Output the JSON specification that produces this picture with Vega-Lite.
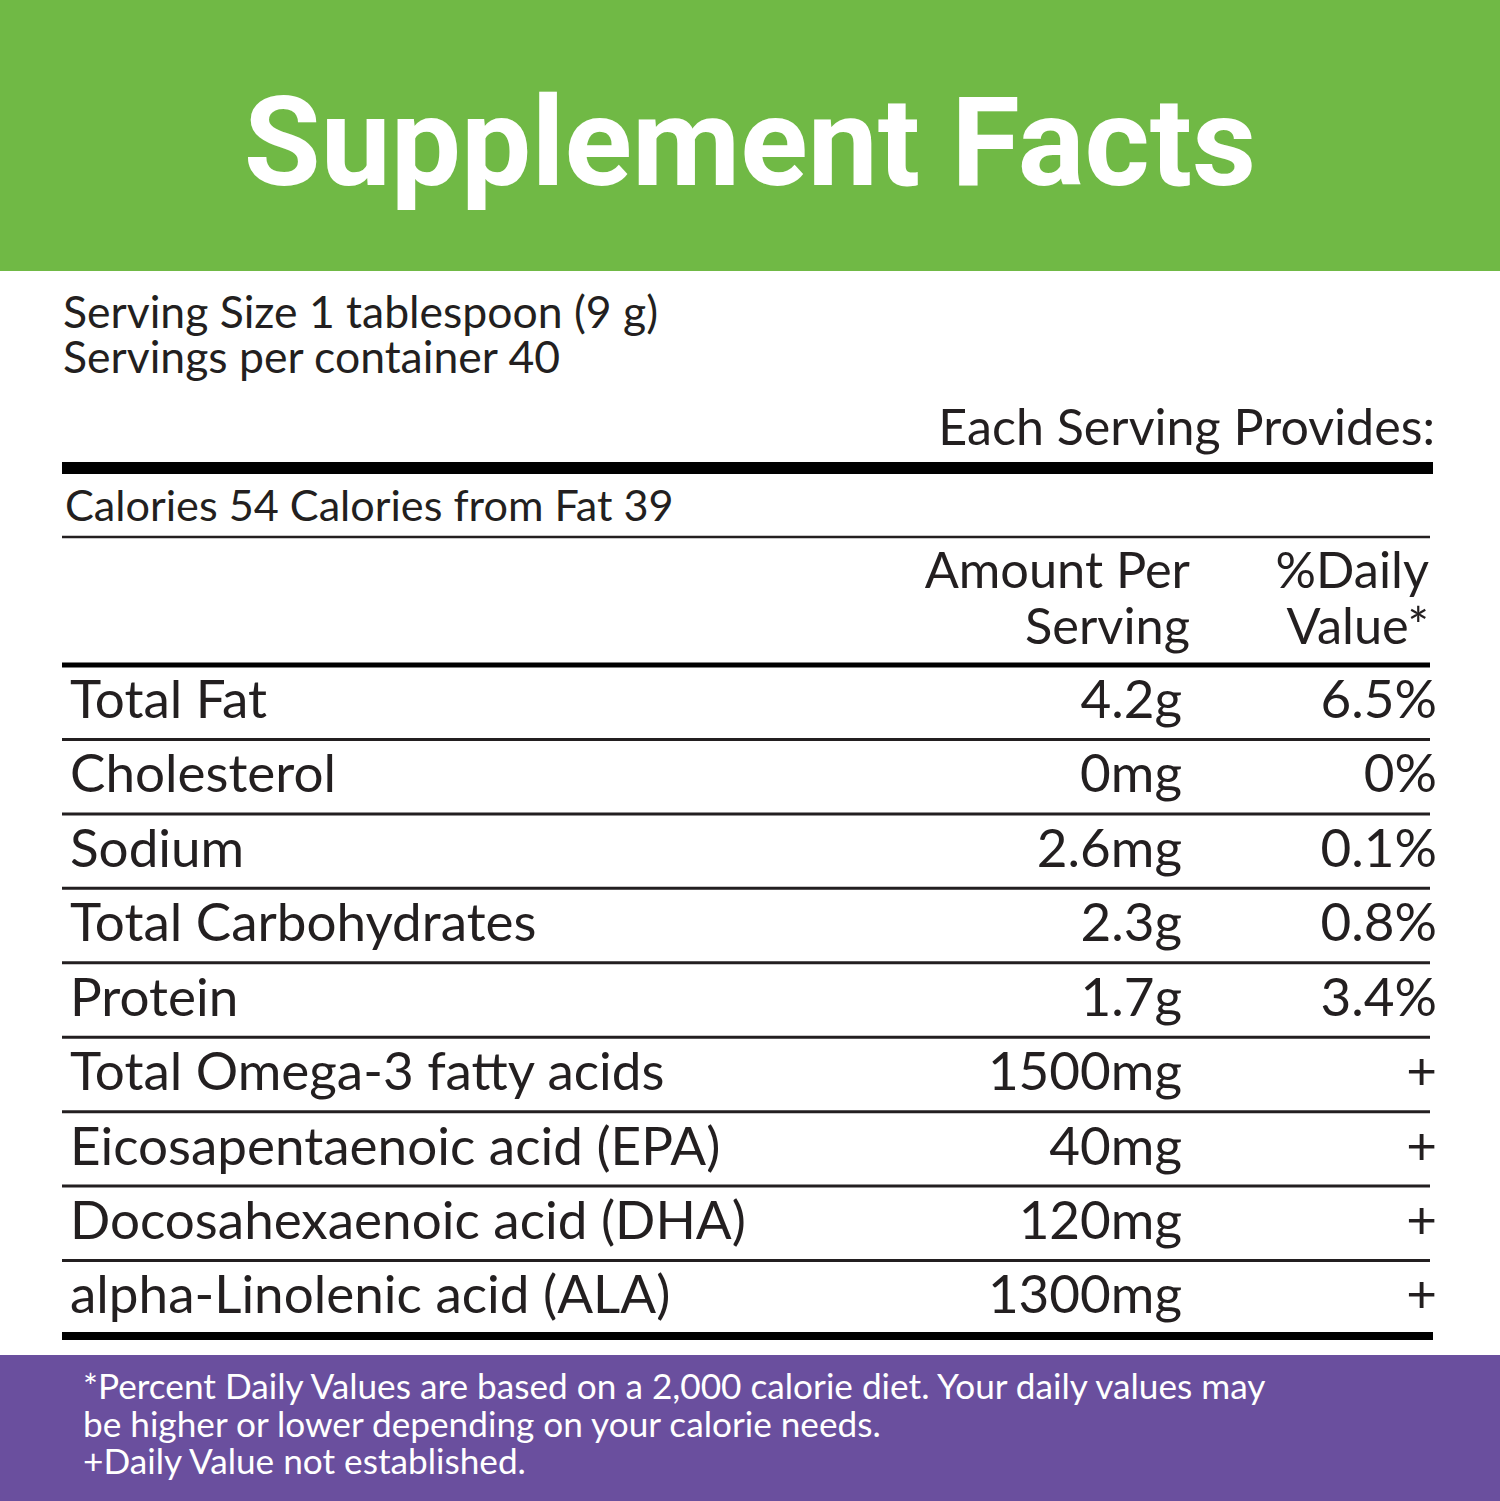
{
  "$schema": "https://vega.github.io/schema/vega-lite/v6.json",
  "width": 1500,
  "height": 1501,
  "autosize": {"type": "fit", "contains": "padding"},
  "padding": 0,
  "background": "#ffffff",
  "config": {"view": {"stroke": null}, "text": {"font": "Lato", "color": "#231f20"}},
  "data": {"values": [{}]},
  "datasets": {
    "nutrients": [
      {"nutrient": "Total Fat", "amount": "4.2g", "dv": "6.5%"},
      {"nutrient": "Cholesterol", "amount": "0mg", "dv": "0%"},
      {"nutrient": "Sodium", "amount": "2.6mg", "dv": "0.1%"},
      {"nutrient": "Total Carbohydrates", "amount": "2.3g", "dv": "0.8%"},
      {"nutrient": "Protein", "amount": "1.7g", "dv": "3.4%"},
      {"nutrient": "Total Omega-3 fatty acids", "amount": "1500mg", "dv": "+"},
      {"nutrient": "Eicosapentaenoic acid (EPA)", "amount": "40mg", "dv": "+"},
      {"nutrient": "Docosahexaenoic acid (DHA)", "amount": "120mg", "dv": "+"},
      {"nutrient": "alpha-Linolenic acid (ALA)", "amount": "1300mg", "dv": "+"}
    ]
  },
  "resolve": {"scale": {"y": "independent"}},
  "layer": [
    {
      "mark": {"type": "rect", "color": "#70b945"},
      "encoding": {
        "x": {"datum": 0, "type": "quantitative", "scale": {"domain": [0, 1500], "nice": false, "zero": false}, "axis": null},
        "x2": {"datum": 1500},
        "y": {"datum": 0, "type": "quantitative", "scale": {"domain": [0, 1501], "reverse": true, "nice": false, "zero": false}, "axis": null},
        "y2": {"datum": 271}
      }
    },
    {
      "mark": {"type": "rect", "color": "#6a4f9e"},
      "encoding": {
        "x": {"datum": 0, "type": "quantitative", "scale": {"domain": [0, 1500], "nice": false, "zero": false}, "axis": null},
        "x2": {"datum": 1500},
        "y": {"datum": 1355, "type": "quantitative", "scale": {"domain": [0, 1501], "reverse": true, "nice": false, "zero": false}, "axis": null},
        "y2": {"datum": 1501}
      }
    },
    {
      "mark": {"type": "text", "text": "Supplement Facts", "font": "Roboto", "fontWeight": "bold", "fontSize": 125, "color": "#ffffff", "align": "center", "baseline": "alphabetic"},
      "encoding": {
        "x": {"datum": 750, "type": "quantitative", "scale": {"domain": [0, 1500], "nice": false, "zero": false}, "axis": null},
        "y": {"datum": 185, "type": "quantitative", "scale": {"domain": [0, 1501], "reverse": true, "nice": false, "zero": false}, "axis": null}
      }
    },
    {
      "mark": {"type": "text", "text": ["Serving Size 1 tablespoon (9 g)", "Servings per container 40"], "fontSize": 44.5, "lineHeight": 45, "align": "left", "baseline": "alphabetic"},
      "encoding": {
        "x": {"datum": 63, "type": "quantitative", "scale": {"domain": [0, 1500], "nice": false, "zero": false}, "axis": null},
        "y": {"datum": 328, "type": "quantitative", "scale": {"domain": [0, 1501], "reverse": true, "nice": false, "zero": false}, "axis": null}
      }
    },
    {
      "mark": {"type": "text", "text": "Each Serving Provides:", "fontSize": 50.2, "align": "right", "baseline": "alphabetic"},
      "encoding": {
        "x": {"datum": 1435, "type": "quantitative", "scale": {"domain": [0, 1500], "nice": false, "zero": false}, "axis": null},
        "y": {"datum": 445, "type": "quantitative", "scale": {"domain": [0, 1501], "reverse": true, "nice": false, "zero": false}, "axis": null}
      }
    },
    {
      "mark": {"type": "text", "text": "Calories 54 Calories from Fat 39", "fontSize": 43.2, "align": "left", "baseline": "alphabetic"},
      "encoding": {
        "x": {"datum": 65, "type": "quantitative", "scale": {"domain": [0, 1500], "nice": false, "zero": false}, "axis": null},
        "y": {"datum": 521, "type": "quantitative", "scale": {"domain": [0, 1501], "reverse": true, "nice": false, "zero": false}, "axis": null}
      }
    },
    {
      "mark": {"type": "text", "text": ["Amount Per", "Serving"], "fontSize": 50.5, "lineHeight": 56, "align": "right", "baseline": "alphabetic"},
      "encoding": {
        "x": {"datum": 1190, "type": "quantitative", "scale": {"domain": [0, 1500], "nice": false, "zero": false}, "axis": null},
        "y": {"datum": 588, "type": "quantitative", "scale": {"domain": [0, 1501], "reverse": true, "nice": false, "zero": false}, "axis": null}
      }
    },
    {
      "mark": {"type": "text", "text": ["%Daily", "Value*"], "fontSize": 50.5, "lineHeight": 56, "align": "right", "baseline": "alphabetic"},
      "encoding": {
        "x": {"datum": 1429, "type": "quantitative", "scale": {"domain": [0, 1500], "nice": false, "zero": false}, "axis": null},
        "y": {"datum": 588, "type": "quantitative", "scale": {"domain": [0, 1501], "reverse": true, "nice": false, "zero": false}, "axis": null}
      }
    },
    {
      "data": {"name": "nutrients"},
      "mark": {"type": "rule", "color": "#231f20", "strokeWidth": 3},
      "encoding": {
        "x": {"datum": 62, "type": "quantitative", "scale": {"domain": [0, 1500], "nice": false, "zero": false}, "axis": null},
        "x2": {"datum": 1430},
        "y": {"field": "nutrient", "type": "nominal", "sort": null, "bandPosition": 1, "scale": {"type": "band", "range": [665, 1335], "paddingInner": 0, "paddingOuter": 0}, "axis": null}
      }
    },
    {
      "data": {"name": "nutrients"},
      "mark": {"type": "text", "fontSize": 53, "align": "left", "baseline": "alphabetic"},
      "encoding": {
        "text": {"field": "nutrient"},
        "x": {"datum": 70, "type": "quantitative", "scale": {"domain": [0, 1500], "nice": false, "zero": false}, "axis": null},
        "y": {"field": "nutrient", "type": "nominal", "sort": null, "bandPosition": 0.71, "scale": {"type": "band", "range": [665, 1335], "paddingInner": 0, "paddingOuter": 0}, "axis": null}
      }
    },
    {
      "data": {"name": "nutrients"},
      "mark": {"type": "text", "fontSize": 53, "align": "right", "baseline": "alphabetic"},
      "encoding": {
        "text": {"field": "amount"},
        "x": {"datum": 1182, "type": "quantitative", "scale": {"domain": [0, 1500], "nice": false, "zero": false}, "axis": null},
        "y": {"field": "nutrient", "type": "nominal", "sort": null, "bandPosition": 0.71, "scale": {"type": "band", "range": [665, 1335], "paddingInner": 0, "paddingOuter": 0}, "axis": null}
      }
    },
    {
      "data": {"name": "nutrients"},
      "mark": {"type": "text", "fontSize": 53, "align": "right", "baseline": "alphabetic"},
      "encoding": {
        "text": {"field": "dv"},
        "x": {"datum": 1437, "type": "quantitative", "scale": {"domain": [0, 1500], "nice": false, "zero": false}, "axis": null},
        "y": {"field": "nutrient", "type": "nominal", "sort": null, "bandPosition": 0.71, "scale": {"type": "band", "range": [665, 1335], "paddingInner": 0, "paddingOuter": 0}, "axis": null}
      }
    },
    {
      "mark": {"type": "rule", "color": "#000000", "strokeWidth": 12},
      "encoding": {
        "x": {"datum": 62, "type": "quantitative", "scale": {"domain": [0, 1500], "nice": false, "zero": false}, "axis": null},
        "x2": {"datum": 1433},
        "y": {"datum": 468, "type": "quantitative", "scale": {"domain": [0, 1501], "reverse": true, "nice": false, "zero": false}, "axis": null}
      }
    },
    {
      "mark": {"type": "rule", "color": "#231f20", "strokeWidth": 2.5},
      "encoding": {
        "x": {"datum": 62, "type": "quantitative", "scale": {"domain": [0, 1500], "nice": false, "zero": false}, "axis": null},
        "x2": {"datum": 1430},
        "y": {"datum": 537, "type": "quantitative", "scale": {"domain": [0, 1501], "reverse": true, "nice": false, "zero": false}, "axis": null}
      }
    },
    {
      "mark": {"type": "rule", "color": "#000000", "strokeWidth": 5},
      "encoding": {
        "x": {"datum": 62, "type": "quantitative", "scale": {"domain": [0, 1500], "nice": false, "zero": false}, "axis": null},
        "x2": {"datum": 1430},
        "y": {"datum": 665, "type": "quantitative", "scale": {"domain": [0, 1501], "reverse": true, "nice": false, "zero": false}, "axis": null}
      }
    },
    {
      "mark": {"type": "rule", "color": "#000000", "strokeWidth": 8},
      "encoding": {
        "x": {"datum": 62, "type": "quantitative", "scale": {"domain": [0, 1500], "nice": false, "zero": false}, "axis": null},
        "x2": {"datum": 1433},
        "y": {"datum": 1336, "type": "quantitative", "scale": {"domain": [0, 1501], "reverse": true, "nice": false, "zero": false}, "axis": null}
      }
    },
    {
      "mark": {"type": "text", "text": ["*Percent Daily Values are based on a 2,000 calorie diet. Your daily values may", "be higher or lower depending on your calorie needs.", "+Daily Value not established."], "fontSize": 35.2, "lineHeight": 37.5, "color": "#ffffff", "align": "left", "baseline": "alphabetic"},
      "encoding": {
        "x": {"datum": 83, "type": "quantitative", "scale": {"domain": [0, 1500], "nice": false, "zero": false}, "axis": null},
        "y": {"datum": 1399, "type": "quantitative", "scale": {"domain": [0, 1501], "reverse": true, "nice": false, "zero": false}, "axis": null}
      }
    }
  ]
}
